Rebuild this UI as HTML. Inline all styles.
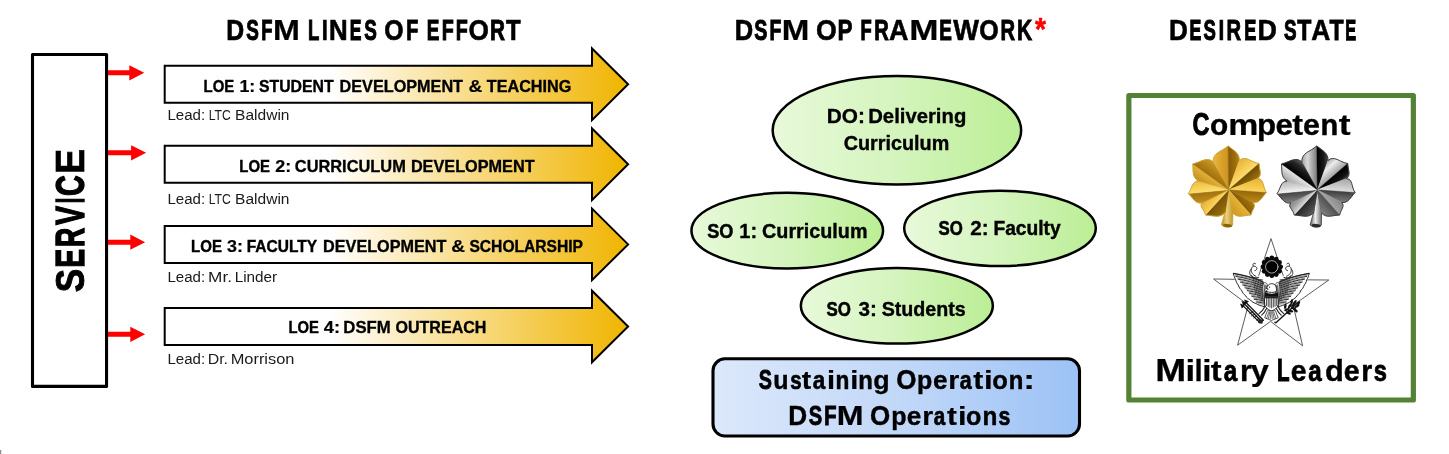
<!DOCTYPE html>
<html>
<head>
<meta charset="utf-8">
<title>DSFM</title>
<style>
html,body{margin:0;padding:0;background:#fff;}
body{width:1449px;height:454px;overflow:hidden;font-family:"Liberation Sans",sans-serif;}
svg{display:block;will-change:transform;}
text{font-family:"Liberation Sans",sans-serif;}
</style>
</head>
<body>
<svg width="1449" height="454" viewBox="0 0 1449 454">
<defs>
  <linearGradient id="gold" x1="0" y1="0" x2="1" y2="0">
    <stop offset="0" stop-color="#ffffff"/>
    <stop offset="0.355" stop-color="#ffffff"/>
    <stop offset="1" stop-color="#f0b400"/>
  </linearGradient>
  <linearGradient id="green" x1="0" y1="0" x2="1" y2="0">
    <stop offset="0" stop-color="#e8f9da"/>
    <stop offset="0.5" stop-color="#d4f4bd"/>
    <stop offset="1" stop-color="#bbee95"/>
  </linearGradient>
  <linearGradient id="blue" x1="0" y1="0" x2="1" y2="0">
    <stop offset="0" stop-color="#dce8fb"/>
    <stop offset="0.5" stop-color="#c2d8f8"/>
    <stop offset="1" stop-color="#9cc2f6"/>
  </linearGradient>
  <path id="redarrow" d="M0,-2.5 H15.2 V-7.65 L30.1,0 L15.2,7.65 V2.5 H0 Z" fill="#ff0000"/>
  <path id="bigarrow" d="M0,-18.5 H427.3 V-35.8 L463.4,0 L427.3,35.8 V18.5 H0 Z" fill="url(#gold)" stroke="#000" stroke-width="2" stroke-linejoin="miter"/>
<linearGradient id="gl_st" gradientUnits="userSpaceOnUse" x1="1221.5" y1="0" x2="1233.0" y2="0"><stop offset="0" stop-color="#b8891a"/><stop offset="0.45" stop-color="#ecd27a"/><stop offset="1" stop-color="#c1942a"/></linearGradient>
<linearGradient id="gl_00" gradientUnits="userSpaceOnUse" x1="1228.3" y1="161.6" x2="1209.4" y2="161.8"><stop offset="0.00" stop-color="#cc9321"/><stop offset="0.50" stop-color="#dfa82d"/><stop offset="1.00" stop-color="#f1c44b"/></linearGradient>
<linearGradient id="gl_01" gradientUnits="userSpaceOnUse" x1="1228.3" y1="160.7" x2="1242.1" y2="160.6"><stop offset="0.00" stop-color="#835905"/><stop offset="0.50" stop-color="#9e6d0b"/><stop offset="1.00" stop-color="#c6911f"/></linearGradient>
<linearGradient id="gl_10" gradientUnits="userSpaceOnUse" x1="1249.2" y1="172.0" x2="1236.8" y2="157.7"><stop offset="0.00" stop-color="#fedc6d"/><stop offset="0.50" stop-color="#f1c448"/><stop offset="1.00" stop-color="#e1ac2f"/></linearGradient>
<linearGradient id="gl_11" gradientUnits="userSpaceOnUse" x1="1250.7" y1="170.7" x2="1259.3" y2="180.6"><stop offset="0.00" stop-color="#724d02"/><stop offset="0.50" stop-color="#8b6308"/><stop offset="1.00" stop-color="#b58317"/></linearGradient>
<linearGradient id="gl_20" gradientUnits="userSpaceOnUse" x1="1256.7" y1="191.8" x2="1257.8" y2="175.3"><stop offset="0.00" stop-color="#fcd65e"/><stop offset="0.50" stop-color="#efc042"/><stop offset="1.00" stop-color="#e1ac2f"/></linearGradient>
<linearGradient id="gl_21" gradientUnits="userSpaceOnUse" x1="1253.8" y1="191.6" x2="1252.8" y2="205.2"><stop offset="0.00" stop-color="#946709"/><stop offset="0.50" stop-color="#af7d11"/><stop offset="1.00" stop-color="#ca9422"/></linearGradient>
<linearGradient id="gl_30" gradientUnits="userSpaceOnUse" x1="1245.7" y1="209.0" x2="1254.8" y2="200.9"><stop offset="0.00" stop-color="#835b05"/><stop offset="0.50" stop-color="#9a6d09"/><stop offset="1.00" stop-color="#b78517"/></linearGradient>
<linearGradient id="gl_31" gradientUnits="userSpaceOnUse" x1="1241.9" y1="204.7" x2="1230.5" y2="214.8"><stop offset="0.00" stop-color="#e6b235"/><stop offset="0.50" stop-color="#d8a229"/><stop offset="1.00" stop-color="#c8931f"/></linearGradient>
<linearGradient id="gl_40" gradientUnits="userSpaceOnUse" x1="1215.9" y1="203.7" x2="1227.7" y2="214.5"><stop offset="0.00" stop-color="#745108"/><stop offset="0.50" stop-color="#8d6506"/><stop offset="1.00" stop-color="#ad7d13"/></linearGradient>
<linearGradient id="gl_41" gradientUnits="userSpaceOnUse" x1="1210.0" y1="210.1" x2="1200.3" y2="201.2"><stop offset="0.00" stop-color="#fad25a"/><stop offset="0.50" stop-color="#edbe42"/><stop offset="1.00" stop-color="#dca82f"/></linearGradient>
<linearGradient id="gl_50" gradientUnits="userSpaceOnUse" x1="1201.2" y1="192.4" x2="1202.5" y2="205.7"><stop offset="0.00" stop-color="#a0730e"/><stop offset="0.50" stop-color="#b58316"/><stop offset="1.00" stop-color="#d09c27"/></linearGradient>
<linearGradient id="gl_51" gradientUnits="userSpaceOnUse" x1="1199.4" y1="192.6" x2="1198.0" y2="178.2"><stop offset="0.00" stop-color="#ffde70"/><stop offset="0.50" stop-color="#f3ca4e"/><stop offset="1.00" stop-color="#e3b235"/></linearGradient>
<linearGradient id="gl_60" gradientUnits="userSpaceOnUse" x1="1204.5" y1="172.5" x2="1196.7" y2="183.3"><stop offset="0.00" stop-color="#e3b23a"/><stop offset="0.50" stop-color="#d09c27"/><stop offset="1.00" stop-color="#bb891b"/></linearGradient>
<linearGradient id="gl_61" gradientUnits="userSpaceOnUse" x1="1205.2" y1="172.9" x2="1215.2" y2="159.0"><stop offset="0.00" stop-color="#a06f0c"/><stop offset="0.50" stop-color="#bb8919"/><stop offset="1.00" stop-color="#daa62f"/></linearGradient>
<linearGradient id="sl_st" gradientUnits="userSpaceOnUse" x1="1310.2" y1="0" x2="1321.7" y2="0"><stop offset="0" stop-color="#5a5a5a"/><stop offset="0.45" stop-color="#f0f0f0"/><stop offset="1" stop-color="#6c6c6c"/></linearGradient>
<linearGradient id="sl_00" gradientUnits="userSpaceOnUse" x1="1317.0" y1="161.6" x2="1298.1" y2="161.8"><stop offset="0.00" stop-color="#7a7a7a"/><stop offset="0.50" stop-color="#d8d8d8"/><stop offset="1.00" stop-color="#828282"/></linearGradient>
<linearGradient id="sl_01" gradientUnits="userSpaceOnUse" x1="1317.0" y1="160.7" x2="1330.8" y2="160.6"><stop offset="0.00" stop-color="#000000"/><stop offset="0.50" stop-color="#1a1a1a"/><stop offset="1.00" stop-color="#707070"/></linearGradient>
<linearGradient id="sl_10" gradientUnits="userSpaceOnUse" x1="1337.9" y1="172.0" x2="1325.5" y2="157.7"><stop offset="0.00" stop-color="#a0a0a0"/><stop offset="0.50" stop-color="#ececec"/><stop offset="1.00" stop-color="#848484"/></linearGradient>
<linearGradient id="sl_11" gradientUnits="userSpaceOnUse" x1="1339.4" y1="170.7" x2="1348.0" y2="180.6"><stop offset="0.00" stop-color="#000000"/><stop offset="0.50" stop-color="#101010"/><stop offset="1.00" stop-color="#5e5e5e"/></linearGradient>
<linearGradient id="sl_20" gradientUnits="userSpaceOnUse" x1="1345.4" y1="191.8" x2="1346.5" y2="175.3"><stop offset="0.00" stop-color="#e0e0e0"/><stop offset="0.50" stop-color="#bababa"/><stop offset="1.00" stop-color="#989898"/></linearGradient>
<linearGradient id="sl_21" gradientUnits="userSpaceOnUse" x1="1342.5" y1="191.6" x2="1341.5" y2="205.2"><stop offset="0.00" stop-color="#3c3c3c"/><stop offset="0.50" stop-color="#686868"/><stop offset="1.00" stop-color="#8e8e8e"/></linearGradient>
<linearGradient id="sl_30" gradientUnits="userSpaceOnUse" x1="1334.4" y1="209.0" x2="1343.5" y2="200.9"><stop offset="0.00" stop-color="#a4a4a4"/><stop offset="0.50" stop-color="#929292"/><stop offset="1.00" stop-color="#808080"/></linearGradient>
<linearGradient id="sl_31" gradientUnits="userSpaceOnUse" x1="1330.6" y1="204.7" x2="1319.2" y2="214.8"><stop offset="0.00" stop-color="#505050"/><stop offset="0.50" stop-color="#6e6e6e"/><stop offset="1.00" stop-color="#8a8a8a"/></linearGradient>
<linearGradient id="sl_40" gradientUnits="userSpaceOnUse" x1="1304.6" y1="203.7" x2="1316.4" y2="214.5"><stop offset="0.00" stop-color="#262626"/><stop offset="0.50" stop-color="#464646"/><stop offset="1.00" stop-color="#6e6e6e"/></linearGradient>
<linearGradient id="sl_41" gradientUnits="userSpaceOnUse" x1="1298.7" y1="210.1" x2="1289.0" y2="201.2"><stop offset="0.00" stop-color="#d8d8d8"/><stop offset="0.50" stop-color="#9c9c9c"/><stop offset="1.00" stop-color="#828282"/></linearGradient>
<linearGradient id="sl_50" gradientUnits="userSpaceOnUse" x1="1289.9" y1="192.4" x2="1291.2" y2="205.7"><stop offset="0.00" stop-color="#404040"/><stop offset="0.50" stop-color="#6a6a6a"/><stop offset="1.00" stop-color="#949494"/></linearGradient>
<linearGradient id="sl_51" gradientUnits="userSpaceOnUse" x1="1288.1" y1="192.6" x2="1286.7" y2="178.2"><stop offset="0.00" stop-color="#f2f2f2"/><stop offset="0.50" stop-color="#cccccc"/><stop offset="1.00" stop-color="#a4a4a4"/></linearGradient>
<linearGradient id="sl_60" gradientUnits="userSpaceOnUse" x1="1293.2" y1="172.5" x2="1285.4" y2="183.3"><stop offset="0.00" stop-color="#e8e8e8"/><stop offset="0.50" stop-color="#bcbcbc"/><stop offset="1.00" stop-color="#929292"/></linearGradient>
<linearGradient id="sl_61" gradientUnits="userSpaceOnUse" x1="1293.9" y1="172.9" x2="1303.9" y2="159.0"><stop offset="0.00" stop-color="#000000"/><stop offset="0.50" stop-color="#242424"/><stop offset="1.00" stop-color="#7c7c7c"/></linearGradient>
</defs>

<rect x="0" y="450" width="1.2" height="4" fill="#8c8c8c"/>
<!-- SERVICE box -->
<rect x="32.5" y="54.5" width="74.05" height="331.9" fill="#fff" stroke="#000" stroke-width="3.1" stroke-linejoin="round"/>

<!-- red arrows -->
<path d="M108,70.3 H129.3 V65.15 L144.2,72.8 L129.3,80.45 V75.3 H108 Z" fill="#ff0000"/>
<path d="M108,150.3 H131.1 V145.15 L146.1,152.8 L131.1,160.45 V155.3 H108 Z" fill="#ff0000"/>
<path d="M108,239.7 H130.3 V234.55 L145.1,242.2 L130.3,249.85 V244.7 H108 Z" fill="#ff0000"/>
<path d="M108,331.8 H130.3 V326.65 L145.1,334.3 L130.3,341.95 V336.8 H108 Z" fill="#ff0000"/>

<!-- big arrows -->
<use href="#bigarrow" x="164.7" y="84.3"/>
<use href="#bigarrow" x="164.7" y="164.3"/>
<use href="#bigarrow" x="164.7" y="244.4"/>
<use href="#bigarrow" x="164.7" y="326.5"/>

<!-- ellipses -->
<g fill="url(#green)" stroke="#000" stroke-width="2.5">
<ellipse cx="896.9" cy="130.3" rx="124.25" ry="54.25"/>
<ellipse cx="787.25" cy="230.65" rx="95.8" ry="37.8"/>
<ellipse cx="1000" cy="228.35" rx="95.8" ry="37.7"/>
<ellipse cx="896.85" cy="305.85" rx="96" ry="37.75"/>
</g>

<!-- sustaining box -->
<rect x="713" y="358.8" width="366.5" height="77.2" rx="12" ry="12" fill="url(#blue)" stroke="#000" stroke-width="3.1"/>

<!-- desired state box -->
<rect x="1128.85" y="95.5" width="284.5" height="304.5" fill="#fff" stroke="#548235" stroke-width="5.2" stroke-linejoin="round"/>

<!-- texts -->
<text x="226.18" y="39.80" font-size="28.80" textLength="17.92" lengthAdjust="spacingAndGlyphs" font-weight="bold" stroke="#000" stroke-width="0.68">D</text>
<text x="246.20" y="39.80" font-size="28.80" textLength="12.60" lengthAdjust="spacingAndGlyphs" font-weight="bold" stroke="#000" stroke-width="1.08">S</text>
<text x="261.32" y="39.80" font-size="28.80" textLength="11.20" lengthAdjust="spacingAndGlyphs" font-weight="bold" stroke="#000" stroke-width="1.10">F</text>
<text x="273.06" y="39.80" font-size="28.80" textLength="26.89" lengthAdjust="spacingAndGlyphs" font-weight="bold" stroke="#000" stroke-width="0.23">M</text>
<text x="308.01" y="39.80" font-size="28.80" textLength="11.32" lengthAdjust="spacingAndGlyphs" font-weight="bold" stroke="#000" stroke-width="1.09">L</text>
<text x="321.66" y="39.80" font-size="28.80" textLength="6.08" lengthAdjust="spacingAndGlyphs" font-weight="bold" stroke="#000" stroke-width="0.65">I</text>
<text x="328.98" y="39.80" font-size="28.80" textLength="18.66" lengthAdjust="spacingAndGlyphs" font-weight="bold" stroke="#000" stroke-width="0.61">N</text>
<text x="349.81" y="39.80" font-size="28.80" textLength="11.69" lengthAdjust="spacingAndGlyphs" font-weight="bold" stroke="#000" stroke-width="1.17">E</text>
<text x="364.20" y="39.80" font-size="28.80" textLength="12.60" lengthAdjust="spacingAndGlyphs" font-weight="bold" stroke="#000" stroke-width="1.08">S</text>
<text x="384.23" y="39.80" font-size="28.80" textLength="19.27" lengthAdjust="spacingAndGlyphs" font-weight="bold" stroke="#000" stroke-width="0.69">O</text>
<text x="406.19" y="39.80" font-size="28.80" textLength="12.03" lengthAdjust="spacingAndGlyphs" font-weight="bold" stroke="#000" stroke-width="1.01">F</text>
<text x="426.77" y="39.80" font-size="28.80" textLength="12.64" lengthAdjust="spacingAndGlyphs" font-weight="bold" stroke="#000" stroke-width="1.07">E</text>
<text x="441.69" y="39.80" font-size="28.80" textLength="12.03" lengthAdjust="spacingAndGlyphs" font-weight="bold" stroke="#000" stroke-width="1.01">F</text>
<text x="455.79" y="39.80" font-size="28.80" textLength="12.03" lengthAdjust="spacingAndGlyphs" font-weight="bold" stroke="#000" stroke-width="1.01">F</text>
<text x="468.42" y="39.80" font-size="28.80" textLength="20.39" lengthAdjust="spacingAndGlyphs" font-weight="bold" stroke="#000" stroke-width="0.59">O</text>
<text x="490.10" y="39.80" font-size="28.80" textLength="14.94" lengthAdjust="spacingAndGlyphs" font-weight="bold" stroke="#000" stroke-width="0.97">R</text>
<text x="506.00" y="39.80" font-size="28.80" textLength="14.58" lengthAdjust="spacingAndGlyphs" font-weight="bold" stroke="#000" stroke-width="0.74">T</text>
<text x="734.71" y="39.50" font-size="28.80" textLength="18.45" lengthAdjust="spacingAndGlyphs" font-weight="bold" stroke="#000" stroke-width="0.63">D</text>
<text x="754.35" y="39.50" font-size="28.80" textLength="13.10" lengthAdjust="spacingAndGlyphs" font-weight="bold" stroke="#000" stroke-width="1.03">S</text>
<text x="769.61" y="39.50" font-size="28.80" textLength="11.90" lengthAdjust="spacingAndGlyphs" font-weight="bold" stroke="#000" stroke-width="1.02">F</text>
<text x="781.70" y="39.50" font-size="28.80" textLength="27.60" lengthAdjust="spacingAndGlyphs" font-weight="bold" stroke="#000" stroke-width="0.23">M</text>
<text x="815.99" y="39.50" font-size="28.80" textLength="20.75" lengthAdjust="spacingAndGlyphs" font-weight="bold" stroke="#000" stroke-width="0.56">O</text>
<text x="837.51" y="39.50" font-size="28.80" textLength="15.05" lengthAdjust="spacingAndGlyphs" font-weight="bold" stroke="#000" stroke-width="0.83">P</text>
<text x="860.52" y="39.50" font-size="28.80" textLength="11.20" lengthAdjust="spacingAndGlyphs" font-weight="bold" stroke="#000" stroke-width="1.10">F</text>
<text x="874.15" y="39.50" font-size="28.80" textLength="14.56" lengthAdjust="spacingAndGlyphs" font-weight="bold" stroke="#000" stroke-width="1.00">R</text>
<text x="889.10" y="39.50" font-size="28.80" textLength="19.44" lengthAdjust="spacingAndGlyphs" font-weight="bold" stroke="#000" stroke-width="0.54">A</text>
<text x="909.36" y="39.50" font-size="28.80" textLength="29.27" lengthAdjust="spacingAndGlyphs" font-weight="bold" stroke="#000" stroke-width="0.23">M</text>
<text x="939.17" y="39.50" font-size="28.80" textLength="12.64" lengthAdjust="spacingAndGlyphs" font-weight="bold" stroke="#000" stroke-width="1.07">E</text>
<text x="953.24" y="39.50" font-size="28.80" textLength="25.71" lengthAdjust="spacingAndGlyphs" font-weight="bold" stroke="#000" stroke-width="0.54">W</text>
<text x="979.22" y="39.50" font-size="28.80" textLength="19.39" lengthAdjust="spacingAndGlyphs" font-weight="bold" stroke="#000" stroke-width="0.68">O</text>
<text x="1000.45" y="39.50" font-size="28.80" textLength="14.56" lengthAdjust="spacingAndGlyphs" font-weight="bold" stroke="#000" stroke-width="1.00">R</text>
<text x="1016.97" y="39.50" font-size="28.80" textLength="15.15" lengthAdjust="spacingAndGlyphs" font-weight="bold" stroke="#000" stroke-width="0.95">K</text>
<text x="1035.00" y="40.20" font-size="30.50" textLength="10.95" lengthAdjust="spacingAndGlyphs" font-weight="bold" fill="#ff0000" stroke="#ff0000" stroke-width="0.56">*</text>
<text x="1169.05" y="39.60" font-size="28.80" textLength="18.85" lengthAdjust="spacingAndGlyphs" font-weight="bold" stroke="#000" stroke-width="0.59">D</text>
<text x="1189.49" y="39.60" font-size="28.80" textLength="11.83" lengthAdjust="spacingAndGlyphs" font-weight="bold" stroke="#000" stroke-width="1.15">E</text>
<text x="1203.62" y="39.60" font-size="28.80" textLength="12.35" lengthAdjust="spacingAndGlyphs" font-weight="bold" stroke="#000" stroke-width="1.11">S</text>
<text x="1218.46" y="39.60" font-size="28.80" textLength="5.79" lengthAdjust="spacingAndGlyphs" font-weight="bold" stroke="#000" stroke-width="0.70">I</text>
<text x="1226.55" y="39.60" font-size="28.80" textLength="14.56" lengthAdjust="spacingAndGlyphs" font-weight="bold" stroke="#000" stroke-width="1.00">R</text>
<text x="1244.15" y="39.60" font-size="28.80" textLength="12.09" lengthAdjust="spacingAndGlyphs" font-weight="bold" stroke="#000" stroke-width="1.13">E</text>
<text x="1257.57" y="39.60" font-size="28.80" textLength="19.38" lengthAdjust="spacingAndGlyphs" font-weight="bold" stroke="#000" stroke-width="0.54">D</text>
<text x="1284.00" y="39.60" font-size="28.80" textLength="12.60" lengthAdjust="spacingAndGlyphs" font-weight="bold" stroke="#000" stroke-width="1.08">S</text>
<text x="1297.34" y="39.60" font-size="28.80" textLength="14.11" lengthAdjust="spacingAndGlyphs" font-weight="bold" stroke="#000" stroke-width="0.80">T</text>
<text x="1311.23" y="39.60" font-size="28.80" textLength="19.07" lengthAdjust="spacingAndGlyphs" font-weight="bold" stroke="#000" stroke-width="0.58">A</text>
<text x="1329.44" y="39.60" font-size="28.80" textLength="14.11" lengthAdjust="spacingAndGlyphs" font-weight="bold" stroke="#000" stroke-width="0.80">T</text>
<text x="1345.33" y="39.60" font-size="28.80" textLength="10.88" lengthAdjust="spacingAndGlyphs" font-weight="bold" stroke="#000" stroke-width="1.25">E</text>
<text x="203.62" y="91.90" font-size="17.30" textLength="30.64" lengthAdjust="spacingAndGlyphs" font-weight="bold" stroke="#000" stroke-width="0.44">LOE</text>
<text x="239.49" y="91.90" font-size="17.30" textLength="15.81" lengthAdjust="spacingAndGlyphs" font-weight="bold" stroke="#000" stroke-width="0.22">1:</text>
<text x="258.93" y="91.90" font-size="17.30" textLength="74.75" lengthAdjust="spacingAndGlyphs" font-weight="bold" stroke="#000" stroke-width="0.38">STUDENT</text>
<text x="339.60" y="91.90" font-size="17.30" textLength="123.40" lengthAdjust="spacingAndGlyphs" font-weight="bold" stroke="#000" stroke-width="0.36">DEVELOPMENT</text>
<text x="468.43" y="91.90" font-size="17.30" textLength="13.80" lengthAdjust="spacingAndGlyphs" font-weight="bold" stroke="#000" stroke-width="0.14">&amp;</text>
<text x="486.80" y="91.90" font-size="17.30" textLength="84.53" lengthAdjust="spacingAndGlyphs" font-weight="bold" stroke="#000" stroke-width="0.36">TEACHING</text>
<text x="239.32" y="171.70" font-size="17.30" textLength="30.64" lengthAdjust="spacingAndGlyphs" font-weight="bold" stroke="#000" stroke-width="0.44">LOE</text>
<text x="275.38" y="171.70" font-size="17.30" textLength="15.94" lengthAdjust="spacingAndGlyphs" font-weight="bold" stroke="#000" stroke-width="0.21">2:</text>
<text x="294.80" y="171.70" font-size="17.30" textLength="111.03" lengthAdjust="spacingAndGlyphs" font-weight="bold" stroke="#000" stroke-width="0.34">CURRICULUM</text>
<text x="410.89" y="171.70" font-size="17.30" textLength="123.71" lengthAdjust="spacingAndGlyphs" font-weight="bold" stroke="#000" stroke-width="0.35">DEVELOPMENT</text>
<text x="191.12" y="252.00" font-size="17.30" textLength="30.85" lengthAdjust="spacingAndGlyphs" font-weight="bold" stroke="#000" stroke-width="0.44">LOE</text>
<text x="227.09" y="252.00" font-size="17.30" textLength="15.92" lengthAdjust="spacingAndGlyphs" font-weight="bold" stroke="#000" stroke-width="0.21">3:</text>
<text x="246.71" y="252.00" font-size="17.30" textLength="70.31" lengthAdjust="spacingAndGlyphs" font-weight="bold" stroke="#000" stroke-width="0.44">FACULTY</text>
<text x="323.10" y="252.00" font-size="17.30" textLength="123.30" lengthAdjust="spacingAndGlyphs" font-weight="bold" stroke="#000" stroke-width="0.36">DEVELOPMENT</text>
<text x="451.33" y="252.00" font-size="17.30" textLength="13.80" lengthAdjust="spacingAndGlyphs" font-weight="bold" stroke="#000" stroke-width="0.14">&amp;</text>
<text x="469.45" y="252.00" font-size="17.30" textLength="113.58" lengthAdjust="spacingAndGlyphs" font-weight="bold" stroke="#000" stroke-width="0.40">SCHOLARSHIP</text>
<text x="288.44" y="333.10" font-size="17.30" textLength="30.42" lengthAdjust="spacingAndGlyphs" font-weight="bold" stroke="#000" stroke-width="0.45">LOE</text>
<text x="323.81" y="333.10" font-size="17.30" textLength="16.26" lengthAdjust="spacingAndGlyphs" font-weight="bold" stroke="#000" stroke-width="0.18">4:</text>
<text x="343.34" y="333.10" font-size="17.30" textLength="47.43" lengthAdjust="spacingAndGlyphs" font-weight="bold" stroke="#000" stroke-width="0.31">DSFM</text>
<text x="395.53" y="333.10" font-size="17.30" textLength="90.87" lengthAdjust="spacingAndGlyphs" font-weight="bold" stroke="#000" stroke-width="0.37">OUTREACH</text>
<text x="167.46" y="119.70" font-size="15.20" textLength="37.71" lengthAdjust="spacingAndGlyphs" fill="#1a1a1a">Lead:</text>
<text x="167.46" y="203.90" font-size="15.20" textLength="37.71" lengthAdjust="spacingAndGlyphs" fill="#1a1a1a">Lead:</text>
<text x="208.64" y="119.70" font-size="15.20" textLength="22.11" lengthAdjust="spacingAndGlyphs" fill="#1a1a1a">LTC</text>
<text x="208.64" y="203.90" font-size="15.20" textLength="22.11" lengthAdjust="spacingAndGlyphs" fill="#1a1a1a">LTC</text>
<text x="235.13" y="119.70" font-size="15.20" textLength="54.38" lengthAdjust="spacingAndGlyphs" fill="#1a1a1a">Baldwin</text>
<text x="235.13" y="203.90" font-size="15.20" textLength="54.38" lengthAdjust="spacingAndGlyphs" fill="#1a1a1a">Baldwin</text>
<text x="167.46" y="282.10" font-size="15.20" textLength="37.71" lengthAdjust="spacingAndGlyphs" fill="#1a1a1a">Lead:</text>
<text x="208.14" y="282.10" font-size="15.20" textLength="23.87" lengthAdjust="spacingAndGlyphs" fill="#1a1a1a">Mr.</text>
<text x="234.65" y="282.10" font-size="15.20" textLength="42.51" lengthAdjust="spacingAndGlyphs" fill="#1a1a1a">Linder</text>
<text x="167.46" y="364.10" font-size="15.20" textLength="37.71" lengthAdjust="spacingAndGlyphs" fill="#1a1a1a">Lead:</text>
<text x="207.65" y="364.10" font-size="15.20" textLength="20.35" lengthAdjust="spacingAndGlyphs" fill="#1a1a1a">Dr.</text>
<text x="230.65" y="364.10" font-size="15.20" textLength="63.81" lengthAdjust="spacingAndGlyphs" fill="#1a1a1a">Morrison</text>
<text x="826.66" y="123.00" font-size="20.60" textLength="38.20" lengthAdjust="spacingAndGlyphs" font-weight="bold" stroke="#000" stroke-width="0.30">DO:</text>
<text x="868.22" y="123.00" font-size="20.60" textLength="98.06" lengthAdjust="spacingAndGlyphs" font-weight="bold" stroke="#000" stroke-width="0.35">Delivering</text>
<text x="843.78" y="150.20" font-size="20.60" textLength="105.45" lengthAdjust="spacingAndGlyphs" font-weight="bold" stroke="#000" stroke-width="0.39">Curriculum</text>
<text x="707.22" y="238.00" font-size="20.60" textLength="26.19" lengthAdjust="spacingAndGlyphs" font-weight="bold" stroke="#000" stroke-width="0.49">SO</text>
<text x="739.31" y="238.00" font-size="20.60" textLength="17.73" lengthAdjust="spacingAndGlyphs" font-weight="bold" stroke="#000" stroke-width="0.34">1:</text>
<text x="762.08" y="238.00" font-size="20.60" textLength="105.45" lengthAdjust="spacingAndGlyphs" font-weight="bold" stroke="#000" stroke-width="0.39">Curriculum</text>
<text x="938.61" y="235.40" font-size="20.60" textLength="24.30" lengthAdjust="spacingAndGlyphs" font-weight="bold" stroke="#000" stroke-width="0.59">SO</text>
<text x="970.23" y="235.40" font-size="20.60" textLength="18.42" lengthAdjust="spacingAndGlyphs" font-weight="bold" stroke="#000" stroke-width="0.29">2:</text>
<text x="993.43" y="235.40" font-size="20.60" textLength="67.26" lengthAdjust="spacingAndGlyphs" font-weight="bold" stroke="#000" stroke-width="0.43">Faculty</text>
<text x="826.50" y="315.50" font-size="20.60" textLength="24.42" lengthAdjust="spacingAndGlyphs" font-weight="bold" stroke="#000" stroke-width="0.58">SO</text>
<text x="858.48" y="315.50" font-size="20.60" textLength="18.36" lengthAdjust="spacingAndGlyphs" font-weight="bold" stroke="#000" stroke-width="0.30">3:</text>
<text x="881.63" y="315.50" font-size="20.60" textLength="84.07" lengthAdjust="spacingAndGlyphs" font-weight="bold" stroke="#000" stroke-width="0.40">Students</text>
<text x="758.67" y="389.20" font-size="27.00" textLength="13.16" lengthAdjust="spacingAndGlyphs" font-weight="bold" stroke="#000" stroke-width="0.88">S</text>
<text x="773.15" y="389.20" font-size="25.79" textLength="15.31" lengthAdjust="spacingAndGlyphs" font-weight="bold" stroke="#000" stroke-width="0.40">u</text>
<text x="790.14" y="389.20" font-size="25.79" textLength="11.34" lengthAdjust="spacingAndGlyphs" font-weight="bold" stroke="#000" stroke-width="0.71">s</text>
<text x="801.76" y="389.20" font-size="25.79" textLength="9.49" lengthAdjust="spacingAndGlyphs" font-weight="bold" stroke="#000" stroke-width="0.21">t</text>
<text x="812.63" y="389.20" font-size="25.79" textLength="12.54" lengthAdjust="spacingAndGlyphs" font-weight="bold" stroke="#000" stroke-width="0.58">a</text>
<text x="826.97" y="389.20" font-size="25.79" textLength="8.08" lengthAdjust="spacingAndGlyphs" font-weight="bold" stroke="#000" stroke-width="0.21">i</text>
<text x="835.39" y="389.20" font-size="25.79" textLength="13.84" lengthAdjust="spacingAndGlyphs" font-weight="bold" stroke="#000" stroke-width="0.56">n</text>
<text x="850.17" y="389.20" font-size="25.79" textLength="8.08" lengthAdjust="spacingAndGlyphs" font-weight="bold" stroke="#000" stroke-width="0.21">i</text>
<text x="858.27" y="389.20" font-size="25.79" textLength="14.57" lengthAdjust="spacingAndGlyphs" font-weight="bold" stroke="#000" stroke-width="0.48">n</text>
<text x="873.34" y="389.20" font-size="25.79" textLength="16.41" lengthAdjust="spacingAndGlyphs" font-weight="bold" stroke="#000" stroke-width="0.29">g</text>
<text x="896.17" y="389.20" font-size="27.00" textLength="20.20" lengthAdjust="spacingAndGlyphs" font-weight="bold" stroke="#000" stroke-width="0.46">O</text>
<text x="917.06" y="389.20" font-size="25.79" textLength="15.26" lengthAdjust="spacingAndGlyphs" font-weight="bold" stroke="#000" stroke-width="0.41">p</text>
<text x="932.94" y="389.20" font-size="25.79" textLength="14.59" lengthAdjust="spacingAndGlyphs" font-weight="bold" stroke="#000" stroke-width="0.33">e</text>
<text x="948.22" y="389.20" font-size="25.79" textLength="11.10" lengthAdjust="spacingAndGlyphs" font-weight="bold" stroke="#000" stroke-width="0.21">r</text>
<text x="959.70" y="389.20" font-size="25.79" textLength="11.94" lengthAdjust="spacingAndGlyphs" font-weight="bold" stroke="#000" stroke-width="0.65">a</text>
<text x="973.34" y="389.20" font-size="25.79" textLength="10.02" lengthAdjust="spacingAndGlyphs" font-weight="bold" stroke="#000" stroke-width="0.21">t</text>
<text x="984.02" y="389.20" font-size="25.79" textLength="8.69" lengthAdjust="spacingAndGlyphs" font-weight="bold" stroke="#000" stroke-width="0.21">i</text>
<text x="992.29" y="389.20" font-size="25.79" textLength="15.63" lengthAdjust="spacingAndGlyphs" font-weight="bold" stroke="#000" stroke-width="0.37">o</text>
<text x="1008.77" y="389.20" font-size="25.79" textLength="14.57" lengthAdjust="spacingAndGlyphs" font-weight="bold" stroke="#000" stroke-width="0.48">n</text>
<text x="1023.44" y="389.20" font-size="27.00" textLength="11.32" lengthAdjust="spacingAndGlyphs" font-weight="bold" stroke="#000" stroke-width="0.22">:</text>
<text x="788.27" y="425.30" font-size="27.00" textLength="18.91" lengthAdjust="spacingAndGlyphs" font-weight="bold" stroke="#000" stroke-width="0.44">D</text>
<text x="808.65" y="425.30" font-size="27.00" textLength="13.42" lengthAdjust="spacingAndGlyphs" font-weight="bold" stroke="#000" stroke-width="0.85">S</text>
<text x="824.02" y="425.30" font-size="27.00" textLength="12.64" lengthAdjust="spacingAndGlyphs" font-weight="bold" stroke="#000" stroke-width="0.80">F</text>
<text x="836.76" y="425.30" font-size="27.00" textLength="26.78" lengthAdjust="spacingAndGlyphs" font-weight="bold" stroke="#000" stroke-width="0.22">M</text>
<text x="870.07" y="425.30" font-size="27.00" textLength="20.20" lengthAdjust="spacingAndGlyphs" font-weight="bold" stroke="#000" stroke-width="0.46">O</text>
<text x="891.16" y="425.30" font-size="25.79" textLength="15.26" lengthAdjust="spacingAndGlyphs" font-weight="bold" stroke="#000" stroke-width="0.41">p</text>
<text x="906.84" y="425.30" font-size="25.79" textLength="14.59" lengthAdjust="spacingAndGlyphs" font-weight="bold" stroke="#000" stroke-width="0.33">e</text>
<text x="922.15" y="425.30" font-size="25.79" textLength="10.98" lengthAdjust="spacingAndGlyphs" font-weight="bold" stroke="#000" stroke-width="0.21">r</text>
<text x="933.85" y="425.30" font-size="25.79" textLength="11.46" lengthAdjust="spacingAndGlyphs" font-weight="bold" stroke="#000" stroke-width="0.71">a</text>
<text x="947.14" y="425.30" font-size="25.79" textLength="9.92" lengthAdjust="spacingAndGlyphs" font-weight="bold" stroke="#000" stroke-width="0.21">t</text>
<text x="958.07" y="425.30" font-size="25.79" textLength="8.48" lengthAdjust="spacingAndGlyphs" font-weight="bold" stroke="#000" stroke-width="0.21">i</text>
<text x="966.12" y="425.30" font-size="25.79" textLength="15.37" lengthAdjust="spacingAndGlyphs" font-weight="bold" stroke="#000" stroke-width="0.40">o</text>
<text x="982.52" y="425.30" font-size="25.79" textLength="14.86" lengthAdjust="spacingAndGlyphs" font-weight="bold" stroke="#000" stroke-width="0.45">n</text>
<text x="998.57" y="425.30" font-size="25.79" textLength="11.88" lengthAdjust="spacingAndGlyphs" font-weight="bold" stroke="#000" stroke-width="0.65">s</text>
<text x="1192.44" y="134.50" font-size="31.40" textLength="16.90" lengthAdjust="spacingAndGlyphs" font-weight="bold" stroke="#000" stroke-width="1.00">C</text>
<text x="1210.05" y="134.50" font-size="29.99" textLength="18.20" lengthAdjust="spacingAndGlyphs" font-weight="bold" stroke="#000" stroke-width="0.43">o</text>
<text x="1228.19" y="134.50" font-size="29.99" textLength="30.09" lengthAdjust="spacingAndGlyphs" font-weight="bold" stroke="#000" stroke-width="0.24">m</text>
<text x="1257.00" y="134.50" font-size="29.99" textLength="19.12" lengthAdjust="spacingAndGlyphs" font-weight="bold" stroke="#000" stroke-width="0.33">p</text>
<text x="1275.45" y="134.50" font-size="29.99" textLength="17.36" lengthAdjust="spacingAndGlyphs" font-weight="bold" stroke="#000" stroke-width="0.33">e</text>
<text x="1292.22" y="134.50" font-size="29.99" textLength="10.86" lengthAdjust="spacingAndGlyphs" font-weight="bold" stroke="#000" stroke-width="0.24">t</text>
<text x="1303.00" y="134.50" font-size="29.99" textLength="16.95" lengthAdjust="spacingAndGlyphs" font-weight="bold" stroke="#000" stroke-width="0.38">e</text>
<text x="1320.43" y="134.50" font-size="29.99" textLength="17.73" lengthAdjust="spacingAndGlyphs" font-weight="bold" stroke="#000" stroke-width="0.48">n</text>
<text x="1338.69" y="134.50" font-size="29.99" textLength="11.83" lengthAdjust="spacingAndGlyphs" font-weight="bold" stroke="#000" stroke-width="0.24">t</text>
<text x="1155.24" y="381.20" font-size="31.30" textLength="30.92" lengthAdjust="spacingAndGlyphs" font-weight="bold" stroke="#000" stroke-width="0.25">M</text>
<text x="1185.50" y="381.20" font-size="29.89" textLength="9.64" lengthAdjust="spacingAndGlyphs" font-weight="bold" stroke="#000" stroke-width="0.24">i</text>
<text x="1194.79" y="381.20" font-size="29.89" textLength="7.65" lengthAdjust="spacingAndGlyphs" font-weight="bold" stroke="#000" stroke-width="0.42">l</text>
<text x="1202.20" y="381.20" font-size="29.89" textLength="9.23" lengthAdjust="spacingAndGlyphs" font-weight="bold" stroke="#000" stroke-width="0.24">i</text>
<text x="1210.82" y="381.20" font-size="29.89" textLength="10.86" lengthAdjust="spacingAndGlyphs" font-weight="bold" stroke="#000" stroke-width="0.24">t</text>
<text x="1223.69" y="381.20" font-size="29.89" textLength="13.46" lengthAdjust="spacingAndGlyphs" font-weight="bold" stroke="#000" stroke-width="0.80">a</text>
<text x="1239.98" y="381.20" font-size="29.89" textLength="11.80" lengthAdjust="spacingAndGlyphs" font-weight="bold" stroke="#000" stroke-width="0.36">r</text>
<text x="1250.87" y="381.20" font-size="29.89" textLength="18.09" lengthAdjust="spacingAndGlyphs" font-weight="bold" stroke="#000" stroke-width="0.24">y</text>
<text x="1277.11" y="381.20" font-size="31.30" textLength="12.55" lengthAdjust="spacingAndGlyphs" font-weight="bold" stroke="#000" stroke-width="1.16">L</text>
<text x="1290.85" y="381.20" font-size="29.89" textLength="15.75" lengthAdjust="spacingAndGlyphs" font-weight="bold" stroke="#000" stroke-width="0.52">e</text>
<text x="1308.29" y="381.20" font-size="29.89" textLength="13.46" lengthAdjust="spacingAndGlyphs" font-weight="bold" stroke="#000" stroke-width="0.80">a</text>
<text x="1324.91" y="381.20" font-size="29.89" textLength="18.85" lengthAdjust="spacingAndGlyphs" font-weight="bold" stroke="#000" stroke-width="0.35">d</text>
<text x="1343.63" y="381.20" font-size="29.89" textLength="15.89" lengthAdjust="spacingAndGlyphs" font-weight="bold" stroke="#000" stroke-width="0.50">e</text>
<text x="1361.17" y="381.20" font-size="29.89" textLength="11.01" lengthAdjust="spacingAndGlyphs" font-weight="bold" stroke="#000" stroke-width="0.48">r</text>
<text x="1373.68" y="381.20" font-size="29.89" textLength="13.19" lengthAdjust="spacingAndGlyphs" font-weight="bold" stroke="#000" stroke-width="0.82">s</text>
<g transform="translate(84.1,291.8) rotate(-90)"><text x="-0.55" y="0.00" font-size="40.00" textLength="23.37" lengthAdjust="spacingAndGlyphs" font-weight="bold" stroke="#000" stroke-width="0.91">S</text><text x="24.23" y="0.00" font-size="40.00" textLength="18.56" lengthAdjust="spacingAndGlyphs" font-weight="bold" stroke="#000" stroke-width="1.39">E</text><text x="44.86" y="0.00" font-size="40.00" textLength="19.24" lengthAdjust="spacingAndGlyphs" font-weight="bold" stroke="#000" stroke-width="1.49">R</text><text x="66.88" y="0.00" font-size="40.00" textLength="19.14" lengthAdjust="spacingAndGlyphs" font-weight="bold" stroke="#000" stroke-width="1.35">V</text><text x="88.67" y="0.00" font-size="40.00" textLength="5.55" lengthAdjust="spacingAndGlyphs" font-weight="bold" stroke="#000" stroke-width="1.42">I</text><text x="95.90" y="0.00" font-size="40.00" textLength="20.71" lengthAdjust="spacingAndGlyphs" font-weight="bold" stroke="#000" stroke-width="1.35">C</text><text x="117.83" y="0.00" font-size="40.00" textLength="25.19" lengthAdjust="spacingAndGlyphs" font-weight="bold" stroke="#000" stroke-width="0.71">E</text></g>

<!-- leaves -->
<g id="gl">
<path d="M1228.6,189.8 L1233.0,212.0 L1232.6,225.2 Q1227.0,229.5 1221.4,225.0 L1225.0,212.0 Z" fill="url(#gl_st)" stroke="#cda032" stroke-width="0.8"/>
<ellipse cx="1227.6" cy="225.6" rx="4.6" ry="1.7" fill="#8a6408" transform="rotate(4 1227.6 225.6)"/>
<path d="M1228.6,189.8 L1213.2,161.8 C1212.8,152.7 1221.2,151.9 1228.1,146.0 Z" fill="url(#gl_00)" stroke="url(#gl_00)" stroke-width="0.4"/>
<path d="M1228.6,189.8 L1239.3,160.6 C1239.5,152.9 1234.1,150.9 1228.1,146.0 Z" fill="url(#gl_01)" stroke="url(#gl_01)" stroke-width="0.4"/>
<path d="M1228.6,189.8 L1239.3,160.6 C1245.4,154.9 1250.7,162.2 1259.0,163.5 Z" fill="url(#gl_10)" stroke="url(#gl_10)" stroke-width="0.4"/>
<path d="M1228.6,189.8 L1257.6,178.6 C1262.6,174.6 1259.1,169.9 1259.0,163.5 Z" fill="url(#gl_11)" stroke="url(#gl_11)" stroke-width="0.4"/>
<path d="M1228.6,189.8 L1257.6,178.6 C1264.5,178.9 1262.3,186.9 1266.4,192.5 Z" fill="url(#gl_20)" stroke="url(#gl_20)" stroke-width="0.4"/>
<path d="M1228.6,189.8 L1253.0,202.5 C1260.0,203.2 1261.5,197.5 1266.4,192.5 Z" fill="url(#gl_21)" stroke="url(#gl_21)" stroke-width="0.4"/>
<path d="M1228.6,189.8 L1253.0,202.5 C1256.7,206.3 1251.8,209.7 1251.0,215.0 Z" fill="url(#gl_30)" stroke="url(#gl_30)" stroke-width="0.4"/>
<path d="M1228.6,189.8 L1232.8,212.8 C1237.7,218.7 1243.3,215.2 1251.0,215.0 Z" fill="url(#gl_31)" stroke="url(#gl_31)" stroke-width="0.4"/>
<path d="M1228.6,189.8 L1225.3,212.3 C1219.8,218.7 1213.9,215.4 1205.5,215.0 Z" fill="url(#gl_40)" stroke="url(#gl_40)" stroke-width="0.4"/>
<path d="M1228.6,189.8 L1202.2,203.0 C1198.5,206.7 1204.8,209.8 1205.5,215.0 Z" fill="url(#gl_41)" stroke="url(#gl_41)" stroke-width="0.4"/>
<path d="M1228.6,189.8 L1202.2,203.0 C1195.2,203.9 1193.4,198.5 1188.4,193.6 Z" fill="url(#gl_50)" stroke="url(#gl_50)" stroke-width="0.4"/>
<path d="M1228.6,189.8 L1198.3,181.1 C1191.6,181.5 1192.2,188.1 1188.4,193.6 Z" fill="url(#gl_51)" stroke="url(#gl_51)" stroke-width="0.4"/>
<path d="M1228.6,189.8 L1198.3,181.1 C1192.0,176.9 1193.4,171.5 1192.8,164.0 Z" fill="url(#gl_60)" stroke="url(#gl_60)" stroke-width="0.4"/>
<path d="M1228.6,189.8 L1213.2,161.8 C1206.4,156.5 1201.2,161.9 1192.8,164.0 Z" fill="url(#gl_61)" stroke="url(#gl_61)" stroke-width="0.4"/>
<path d="M1213.2,161.8 C1212.8,152.7 1221.2,151.9 1228.1,146.0 C1234.1,150.9 1239.5,152.9 1239.3,160.6 M1239.3,160.6 C1245.4,154.9 1250.7,162.2 1259.0,163.5 C1259.1,169.9 1262.6,174.6 1257.6,178.6 M1257.6,178.6 C1264.5,178.9 1262.3,186.9 1266.4,192.5 C1261.5,197.5 1260.0,203.2 1253.0,202.5 M1253.0,202.5 C1256.7,206.3 1251.8,209.7 1251.0,215.0 C1243.3,215.2 1237.7,218.7 1232.8,212.8 M1225.3,212.3 C1219.8,218.7 1213.9,215.4 1205.5,215.0 C1204.8,209.8 1198.5,206.7 1202.2,203.0 M1202.2,203.0 C1195.2,203.9 1193.4,198.5 1188.4,193.6 C1192.2,188.1 1191.6,181.5 1198.3,181.1 M1198.3,181.1 C1192.0,176.9 1193.4,171.5 1192.8,164.0 C1201.2,161.9 1206.4,156.5 1213.2,161.8" fill="none" stroke="#cda032" stroke-width="0.9" stroke-linejoin="round"/>
</g>
<g id="sl">
<path d="M1317.3,189.8 L1321.7,212.0 L1321.3,225.2 Q1315.7,229.5 1310.1,225.0 L1313.7,212.0 Z" fill="url(#sl_st)" stroke="#3c3c3c" stroke-width="0.8"/>
<ellipse cx="1316.3" cy="225.6" rx="4.6" ry="1.7" fill="#2a2a2a" transform="rotate(4 1316.3 225.6)"/>
<path d="M1317.3,189.8 L1301.9,161.8 C1301.5,152.7 1309.9,151.9 1316.8,146.0 Z" fill="url(#sl_00)" stroke="url(#sl_00)" stroke-width="0.4"/>
<path d="M1317.3,189.8 L1328.0,160.6 C1328.2,152.9 1322.8,150.9 1316.8,146.0 Z" fill="url(#sl_01)" stroke="url(#sl_01)" stroke-width="0.4"/>
<path d="M1317.3,189.8 L1328.0,160.6 C1334.1,154.9 1339.4,162.2 1347.7,163.5 Z" fill="url(#sl_10)" stroke="url(#sl_10)" stroke-width="0.4"/>
<path d="M1317.3,189.8 L1346.3,178.6 C1351.3,174.6 1347.8,169.9 1347.7,163.5 Z" fill="url(#sl_11)" stroke="url(#sl_11)" stroke-width="0.4"/>
<path d="M1317.3,189.8 L1346.3,178.6 C1353.2,178.9 1351.0,186.9 1355.1,192.5 Z" fill="url(#sl_20)" stroke="url(#sl_20)" stroke-width="0.4"/>
<path d="M1317.3,189.8 L1341.7,202.5 C1348.7,203.2 1350.2,197.5 1355.1,192.5 Z" fill="url(#sl_21)" stroke="url(#sl_21)" stroke-width="0.4"/>
<path d="M1317.3,189.8 L1341.7,202.5 C1345.4,206.3 1340.5,209.7 1339.7,215.0 Z" fill="url(#sl_30)" stroke="url(#sl_30)" stroke-width="0.4"/>
<path d="M1317.3,189.8 L1321.5,212.8 C1326.4,218.7 1332.0,215.2 1339.7,215.0 Z" fill="url(#sl_31)" stroke="url(#sl_31)" stroke-width="0.4"/>
<path d="M1317.3,189.8 L1314.0,212.3 C1308.5,218.7 1302.6,215.4 1294.2,215.0 Z" fill="url(#sl_40)" stroke="url(#sl_40)" stroke-width="0.4"/>
<path d="M1317.3,189.8 L1290.9,203.0 C1287.2,206.7 1293.5,209.8 1294.2,215.0 Z" fill="url(#sl_41)" stroke="url(#sl_41)" stroke-width="0.4"/>
<path d="M1317.3,189.8 L1290.9,203.0 C1283.9,203.9 1282.1,198.5 1277.1,193.6 Z" fill="url(#sl_50)" stroke="url(#sl_50)" stroke-width="0.4"/>
<path d="M1317.3,189.8 L1287.0,181.1 C1280.3,181.5 1280.9,188.1 1277.1,193.6 Z" fill="url(#sl_51)" stroke="url(#sl_51)" stroke-width="0.4"/>
<path d="M1317.3,189.8 L1287.0,181.1 C1280.7,176.9 1282.1,171.5 1281.5,164.0 Z" fill="url(#sl_60)" stroke="url(#sl_60)" stroke-width="0.4"/>
<path d="M1317.3,189.8 L1301.9,161.8 C1295.1,156.5 1289.9,161.9 1281.5,164.0 Z" fill="url(#sl_61)" stroke="url(#sl_61)" stroke-width="0.4"/>
<path d="M1301.9,161.8 C1301.5,152.7 1309.9,151.9 1316.8,146.0 C1322.8,150.9 1328.2,152.9 1328.0,160.6 M1328.0,160.6 C1334.1,154.9 1339.4,162.2 1347.7,163.5 C1347.8,169.9 1351.3,174.6 1346.3,178.6 M1346.3,178.6 C1353.2,178.9 1351.0,186.9 1355.1,192.5 C1350.2,197.5 1348.7,203.2 1341.7,202.5 M1341.7,202.5 C1345.4,206.3 1340.5,209.7 1339.7,215.0 C1332.0,215.2 1326.4,218.7 1321.5,212.8 M1314.0,212.3 C1308.5,218.7 1302.6,215.4 1294.2,215.0 C1293.5,209.8 1287.2,206.7 1290.9,203.0 M1290.9,203.0 C1283.9,203.9 1282.1,198.5 1277.1,193.6 C1280.9,188.1 1280.3,181.5 1287.0,181.1 M1287.0,181.1 C1280.7,176.9 1282.1,171.5 1281.5,164.0 C1289.9,161.9 1295.1,156.5 1301.9,161.8" fill="none" stroke="#3c3c3c" stroke-width="1.0" stroke-linejoin="round"/>
</g>

<!-- star + eagle -->
<g fill="none" stroke="#4a4a4a" stroke-width="0.9" stroke-linejoin="miter">
<path d="M1271,238.6 L1284.6,279.7 L1328.8,280 L1293.2,305.2 L1302.6,345.8 L1270.6,321.4 L1237.6,345.2 L1248.3,305 L1213.6,279 L1257.4,279.6 Z"/>
</g>
<g transform="translate(1225,250) scale(0.18727)" stroke-linecap="round" stroke-linejoin="round">
<path d="M247,150 C200,150 150,120 45,118 C48,160 70,215 105,245 C135,275 170,295 200,305 L185,345 L215,350 L245,372 L275,350 L305,345 L294,305 C324,295 359,275 389,245 C424,215 446,160 449,118 C344,120 294,150 247,150 Z" fill="#fff" stroke="none"/>
<g id="wingL"><path d="M198,166 C150,146 100,134 44,124 C48,140 52,150 56,156 C60,172 66,182 70,186 C76,202 82,210 88,214 C94,230 102,238 108,242 C116,256 126,262 132,264 C142,276 156,284 166,286 C178,294 196,300 210,302 L214,230 Z" fill="#fff" stroke="#1a1a1a" stroke-width="5"/>
<path d="M46,126 Q117,136 200,170" fill="none" stroke="#161616" stroke-width="4.8"/>
<path d="M56,135 Q122,144 200,176" fill="none" stroke="#444" stroke-width="3.2"/>
<path d="M58,141 Q124,150 201,182" fill="none" stroke="#161616" stroke-width="4.8"/>
<path d="M68,150 Q129,159 201,188" fill="none" stroke="#444" stroke-width="3.2"/>
<path d="M70,156 Q130,164 202,193" fill="none" stroke="#161616" stroke-width="4.8"/>
<path d="M80,165 Q135,173 202,199" fill="none" stroke="#444" stroke-width="3.2"/>
<path d="M83,172 Q137,178 204,204" fill="none" stroke="#161616" stroke-width="4.8"/>
<path d="M93,181 Q142,187 204,210" fill="none" stroke="#444" stroke-width="3.2"/>
<path d="M95,187 Q144,193 205,216" fill="none" stroke="#161616" stroke-width="4.8"/>
<path d="M105,196 Q149,201 205,222" fill="none" stroke="#444" stroke-width="3.2"/>
<path d="M107,202 Q150,207 206,228" fill="none" stroke="#161616" stroke-width="4.8"/>
<path d="M117,211 Q156,215 206,234" fill="none" stroke="#444" stroke-width="3.2"/>
<path d="M119,217 Q157,221 207,239" fill="none" stroke="#161616" stroke-width="4.8"/>
<path d="M129,226 Q162,229 207,245" fill="none" stroke="#444" stroke-width="3.2"/>
<path d="M131,232 Q164,235 208,250" fill="none" stroke="#161616" stroke-width="4.8"/>
<path d="M141,241 Q169,244 208,256" fill="none" stroke="#444" stroke-width="3.2"/>
<path d="M144,248 Q171,249 210,262" fill="none" stroke="#161616" stroke-width="4.8"/>
<path d="M154,257 Q176,258 210,268" fill="none" stroke="#444" stroke-width="3.2"/>
<path d="M156,263 Q177,263 211,274" fill="none" stroke="#161616" stroke-width="4.8"/>
<path d="M166,272 Q182,272 211,280" fill="none" stroke="#444" stroke-width="3.2"/>
<path d="M168,278 Q184,278 212,285" fill="none" stroke="#161616" stroke-width="4.8"/>
<path d="M178,287 Q189,286 212,291" fill="none" stroke="#444" stroke-width="3.2"/>
<path d="M150,150 q8,40 14,88" fill="none" stroke="#2a2a2a" stroke-width="3.2"/>
<path d="M159,153 q8,40 15,94" fill="none" stroke="#2a2a2a" stroke-width="3.2"/>
<path d="M168,156 q8,40 16,100" fill="none" stroke="#2a2a2a" stroke-width="3.2"/>
<path d="M177,159 q8,40 17,106" fill="none" stroke="#2a2a2a" stroke-width="3.2"/>
<path d="M186,162 q8,40 18,112" fill="none" stroke="#2a2a2a" stroke-width="3.2"/>
<path d="M195,165 q8,40 19,118" fill="none" stroke="#2a2a2a" stroke-width="3.2"/>
<path d="M204,168 q8,40 20,124" fill="none" stroke="#2a2a2a" stroke-width="3.2"/></g>
<g transform="translate(494,0) scale(-1,1)"><path d="M198,166 C150,146 100,134 44,124 C48,140 52,150 56,156 C60,172 66,182 70,186 C76,202 82,210 88,214 C94,230 102,238 108,242 C116,256 126,262 132,264 C142,276 156,284 166,286 C178,294 196,300 210,302 L214,230 Z" fill="#fff" stroke="#1a1a1a" stroke-width="5"/>
<path d="M46,126 Q117,136 200,170" fill="none" stroke="#161616" stroke-width="4.8"/>
<path d="M56,135 Q122,144 200,176" fill="none" stroke="#444" stroke-width="3.2"/>
<path d="M58,141 Q124,150 201,182" fill="none" stroke="#161616" stroke-width="4.8"/>
<path d="M68,150 Q129,159 201,188" fill="none" stroke="#444" stroke-width="3.2"/>
<path d="M70,156 Q130,164 202,193" fill="none" stroke="#161616" stroke-width="4.8"/>
<path d="M80,165 Q135,173 202,199" fill="none" stroke="#444" stroke-width="3.2"/>
<path d="M83,172 Q137,178 204,204" fill="none" stroke="#161616" stroke-width="4.8"/>
<path d="M93,181 Q142,187 204,210" fill="none" stroke="#444" stroke-width="3.2"/>
<path d="M95,187 Q144,193 205,216" fill="none" stroke="#161616" stroke-width="4.8"/>
<path d="M105,196 Q149,201 205,222" fill="none" stroke="#444" stroke-width="3.2"/>
<path d="M107,202 Q150,207 206,228" fill="none" stroke="#161616" stroke-width="4.8"/>
<path d="M117,211 Q156,215 206,234" fill="none" stroke="#444" stroke-width="3.2"/>
<path d="M119,217 Q157,221 207,239" fill="none" stroke="#161616" stroke-width="4.8"/>
<path d="M129,226 Q162,229 207,245" fill="none" stroke="#444" stroke-width="3.2"/>
<path d="M131,232 Q164,235 208,250" fill="none" stroke="#161616" stroke-width="4.8"/>
<path d="M141,241 Q169,244 208,256" fill="none" stroke="#444" stroke-width="3.2"/>
<path d="M144,248 Q171,249 210,262" fill="none" stroke="#161616" stroke-width="4.8"/>
<path d="M154,257 Q176,258 210,268" fill="none" stroke="#444" stroke-width="3.2"/>
<path d="M156,263 Q177,263 211,274" fill="none" stroke="#161616" stroke-width="4.8"/>
<path d="M166,272 Q182,272 211,280" fill="none" stroke="#444" stroke-width="3.2"/>
<path d="M168,278 Q184,278 212,285" fill="none" stroke="#161616" stroke-width="4.8"/>
<path d="M178,287 Q189,286 212,291" fill="none" stroke="#444" stroke-width="3.2"/>
<path d="M150,150 q8,40 14,88" fill="none" stroke="#2a2a2a" stroke-width="3.2"/>
<path d="M159,153 q8,40 15,94" fill="none" stroke="#2a2a2a" stroke-width="3.2"/>
<path d="M168,156 q8,40 16,100" fill="none" stroke="#2a2a2a" stroke-width="3.2"/>
<path d="M177,159 q8,40 17,106" fill="none" stroke="#2a2a2a" stroke-width="3.2"/>
<path d="M186,162 q8,40 18,112" fill="none" stroke="#2a2a2a" stroke-width="3.2"/>
<path d="M195,165 q8,40 19,118" fill="none" stroke="#2a2a2a" stroke-width="3.2"/>
<path d="M204,168 q8,40 20,124" fill="none" stroke="#2a2a2a" stroke-width="3.2"/></g>
<path d="M165,140 C150,135 138,120 140,102 C142,88 156,82 166,90 C174,97 170,110 160,110 M140,102 C130,110 128,128 140,140 C150,150 168,150 180,146 M150,84 C146,72 156,66 164,74" fill="none" stroke="#222" stroke-width="5"/><path d="M140,135 C150,150 175,158 200,160" fill="none" stroke="#333" stroke-width="5"/>
<g transform="translate(494,0) scale(-1,1)"><path d="M165,140 C150,135 138,120 140,102 C142,88 156,82 166,90 C174,97 170,110 160,110 M140,102 C130,110 128,128 140,140 C150,150 168,150 180,146 M150,84 C146,72 156,66 164,74" fill="none" stroke="#222" stroke-width="5"/><path d="M140,135 C150,150 175,158 200,160" fill="none" stroke="#333" stroke-width="5"/></g>
<g fill="#0a0a0a"><circle cx="297.0" cy="90.0" r="13"/><circle cx="290.7" cy="113.5" r="13"/><circle cx="273.5" cy="130.7" r="13"/><circle cx="250.0" cy="137.0" r="13"/><circle cx="226.5" cy="130.7" r="13"/><circle cx="209.3" cy="113.5" r="13"/><circle cx="203.0" cy="90.0" r="13"/><circle cx="209.3" cy="66.5" r="13"/><circle cx="226.5" cy="49.3" r="13"/><circle cx="250.0" cy="43.0" r="13"/><circle cx="273.5" cy="49.3" r="13"/><circle cx="290.7" cy="66.5" r="13"/><circle cx="250" cy="90" r="50"/></g>
<circle cx="250" cy="90" r="33" fill="none" stroke="#e8e8e8" stroke-width="4"/>
<circle cx="250" cy="90" r="29" fill="#000"/>
<path d="M205,178 C215,168 225,178 228,190 L266,190 C269,178 279,168 289,178 C296,200 292,240 290,262 L204,262 C202,240 198,200 205,178 Z" fill="#fff" stroke="#222" stroke-width="4"/>
<path d="M212,186 l-6,60" stroke="#333" stroke-width="3.5" fill="none"/>
<path d="M282,186 l6,60" stroke="#333" stroke-width="3.5" fill="none"/>
<path d="M216,188 l-6,60" stroke="#333" stroke-width="3.5" fill="none"/>
<path d="M278,188 l6,60" stroke="#333" stroke-width="3.5" fill="none"/>
<path d="M220,190 l-6,60" stroke="#333" stroke-width="3.5" fill="none"/>
<path d="M274,190 l6,60" stroke="#333" stroke-width="3.5" fill="none"/>
<path d="M224,192 l-6,60" stroke="#333" stroke-width="3.5" fill="none"/>
<path d="M270,192 l6,60" stroke="#333" stroke-width="3.5" fill="none"/>
<path d="M228,194 l-6,60" stroke="#333" stroke-width="3.5" fill="none"/>
<path d="M266,194 l6,60" stroke="#333" stroke-width="3.5" fill="none"/>
<path d="M222,222 C218,196 232,180 250,180 C268,180 278,196 274,222 C262,228 234,228 222,222 Z" fill="#fff" stroke="#111" stroke-width="4.5"/>
<path d="M222,205 C214,206 210,214 214,222 C220,220 226,216 230,210 Z" fill="#fff" stroke="#111" stroke-width="4"/>
<circle cx="238" cy="198" r="3.5" fill="#111"/>
<path d="M212,226 C230,236 268,236 284,226 L284,246 L212,246 Z" fill="#111"/>
<path d="M212,246 H284 V292 C284,312 248,326 248,326 C248,326 212,312 212,292 Z" fill="#fff" stroke="#111" stroke-width="4.5"/>
<path d="M222,258 V297" stroke="#111" stroke-width="4" fill="none"/>
<path d="M231,258 V302" stroke="#111" stroke-width="4" fill="none"/>
<path d="M240,258 V306" stroke="#111" stroke-width="4" fill="none"/>
<path d="M249,258 V310" stroke="#111" stroke-width="4" fill="none"/>
<path d="M258,258 V305" stroke="#111" stroke-width="4" fill="none"/>
<path d="M267,258 V301" stroke="#111" stroke-width="4" fill="none"/>
<path d="M276,258 V296" stroke="#111" stroke-width="4" fill="none"/>
<path d="M212,246 H284 V258 H212 Z" fill="#222"/>
<path d="M214,300 C205,318 195,330 182,340 M282,300 C291,318 301,330 314,340 M222,312 C214,328 206,340 196,348 M274,312 C282,328 290,340 300,348" stroke="#222" stroke-width="6" fill="none"/>
<path d="M226,326 L212,362 L248,376 L284,362 L270,326 Z" fill="#fff" stroke="#222" stroke-width="4"/>
<path d="M235,330 L222,366" stroke="#222" stroke-width="3.5" fill="none"/>
<path d="M240,330 L232,366" stroke="#222" stroke-width="3.5" fill="none"/>
<path d="M245,330 L242,366" stroke="#222" stroke-width="3.5" fill="none"/>
<path d="M250,330 L252,366" stroke="#222" stroke-width="3.5" fill="none"/>
<path d="M255,330 L262,366" stroke="#222" stroke-width="3.5" fill="none"/>
<path d="M260,330 L272,366" stroke="#222" stroke-width="3.5" fill="none"/>
<path d="M104,288 L196,382 M113,281 L205,375 M96,297 L187,389" stroke="#111" stroke-width="7" fill="none"/>
<path d="M88,272 l28,8 l-18,18 Z M102,264 l26,10 l-18,16 Z M80,286 l26,10 l-16,16 Z" fill="#111"/>
<path d="M178,368 l26,4 l-4,22 l-22,-4 Z" fill="#222"/>
<path d="M150,330 l-18,10 M160,342 l-18,10 M170,352 l-16,10 M182,364 l-14,10" stroke="#111" stroke-width="5" fill="none"/>
<path d="M272,388 L388,282" stroke="#111" stroke-width="7.5" fill="none"/>
<ellipse cx="330" cy="318" rx="15" ry="6.5" fill="#111" transform="rotate(-20 330 318)"/>
<ellipse cx="345" cy="300" rx="15" ry="6.5" fill="#111" transform="rotate(-60 345 300)"/>
<ellipse cx="360" cy="296" rx="15" ry="6.5" fill="#111" transform="rotate(-10 360 296)"/>
<ellipse cx="372" cy="280" rx="15" ry="6.5" fill="#111" transform="rotate(-50 372 280)"/>
<ellipse cx="350" cy="326" rx="15" ry="6.5" fill="#111" transform="rotate(10 350 326)"/>
<ellipse cx="366" cy="312" rx="15" ry="6.5" fill="#111" transform="rotate(20 366 312)"/>
<ellipse cx="384" cy="300" rx="15" ry="6.5" fill="#111" transform="rotate(-30 384 300)"/>
<ellipse cx="338" cy="336" rx="15" ry="6.5" fill="#111" transform="rotate(30 338 336)"/>
<ellipse cx="322" cy="300" rx="15" ry="6.5" fill="#111" transform="rotate(-80 322 300)"/>
<ellipse cx="376" cy="322" rx="15" ry="6.5" fill="#111" transform="rotate(40 376 322)"/>
<ellipse cx="392" cy="286" rx="15" ry="6.5" fill="#111" transform="rotate(-60 392 286)"/>
<ellipse cx="356" cy="276" rx="15" ry="6.5" fill="#111" transform="rotate(-80 356 276)"/>
<path d="M268,392 l-8,-10 l14,2 Z" fill="#111"/>
</g>
</svg>
</body>
</html>
